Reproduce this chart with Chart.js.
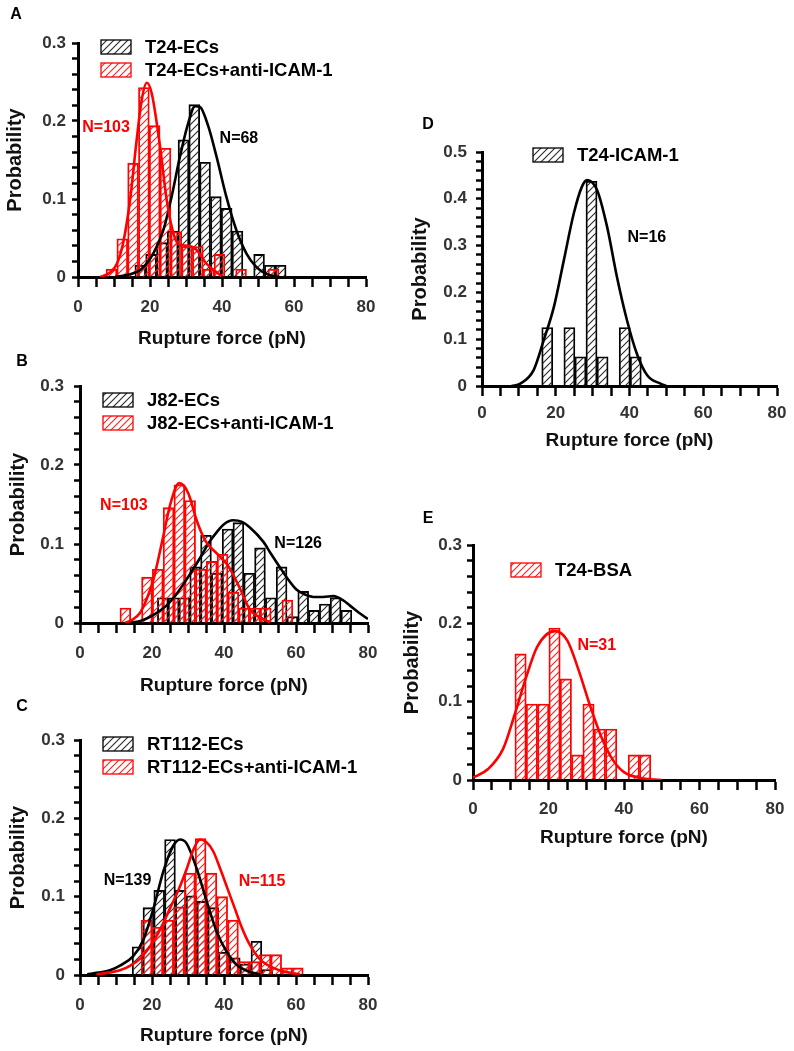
<!DOCTYPE html>
<html lang="en">
<head>
<meta charset="UTF-8">
<title>Rupture force histograms</title>
<style>
  body { margin: 0; background: #fff; }
  #page { position: relative; width: 794px; height: 1051px; overflow: hidden; background: #fff; }
  #page canvas { position: absolute; }
</style>
</head>
<body>
<div id="page">
  <canvas id="panelA"></canvas>
  <canvas id="panelB"></canvas>
  <canvas id="panelC"></canvas>
  <canvas id="panelD"></canvas>
  <canvas id="panelE"></canvas>
</div>

<script src="https://cdn.jsdelivr.net/npm/chart.js@4.4.1/dist/chart.umd.min.js"></script>
<script>
// bin centres (pN) and probabilities
// A: T24-ECs / T24-ECs+anti-ICAM-1
var forceA1 = [17.3, 20.3, 23.3, 26.3, 29.3, 32.3, 35.3, 38.3, 41.3, 44.3, 47.3, 50.3, 53.3, 56.3];
var probA1  = [0.015, 0.029, 0.044, 0.059, 0.176, 0.221, 0.147, 0.103, 0.088, 0.059, 0, 0.029, 0.015, 0.015];
var forceA2 = [9.3, 12.3, 15.3, 18.3, 21.3, 24.3, 27.3, 30.3, 33.3, 36.3, 39.3, 42.3, 45.3, 48.3, 51.3, 54.3];
var probA2  = [0.010, 0.049, 0.146, 0.243, 0.194, 0.165, 0.058, 0.039, 0.039, 0.010, 0.029, 0, 0.010, 0, 0, 0.010];
var fitA1x = [10.3, 14, 17.3, 20.9, 23.7, 26, 28.3, 30.6, 32.5, 33.9, 36.2, 38.5, 41.2, 44, 46.8, 49.5, 52.3, 56];
var fitA1y = [0, 0.003, 0.009, 0.03, 0.06, 0.103, 0.154, 0.197, 0.219, 0.218, 0.193, 0.154, 0.103, 0.06, 0.03, 0.013, 0.004, 0];
var fitA2x = [6.2, 9, 10.8, 12.6, 14.5, 16.3, 17.7, 19.1, 20.5, 22.8, 24.6, 26.5, 28.3, 30.6, 32.9, 35.7, 38.5, 39.9];
var fitA2y = [0, 0.006, 0.017, 0.045, 0.1, 0.176, 0.227, 0.249, 0.235, 0.167, 0.1, 0.056, 0.041, 0.04, 0.035, 0.017, 0.006, 0.001];

// B: J82-ECs / J82-ECs+anti-ICAM-1
var forceB1 = [23, 26, 29, 32, 35, 38, 41, 44, 47, 50, 53, 56, 59, 62, 65, 68, 71, 74];
var probB1  = [0.032, 0.032, 0.032, 0.071, 0.111, 0.063, 0.119, 0.127, 0.063, 0.095, 0.032, 0.071, 0.008, 0.040, 0.016, 0.024, 0.032, 0.016];
var forceB2 = [12.6, 15.6, 18.6, 21.6, 24.6, 27.6, 30.6, 33.6, 36.6, 39.6, 42.6, 45.6, 48.6, 51.6, 54.6, 57.6];
var probB2  = [0.019, 0, 0.058, 0.068, 0.146, 0.175, 0.155, 0.068, 0.078, 0.087, 0.039, 0.019, 0.019, 0.019, 0, 0.029];
var fitB1x = [13, 17, 21, 24, 27, 30, 33.3, 36, 38, 40, 42.5, 45, 47.2, 50.9, 53, 55.6, 58, 60.2, 62.5, 64.8, 67.5, 70.4, 73, 75, 77.5, 80];
var fitB1y = [0, 0.003, 0.012, 0.022, 0.038, 0.058, 0.082, 0.103, 0.115, 0.125, 0.13, 0.128, 0.121, 0.103, 0.088, 0.07, 0.054, 0.042, 0.036, 0.033, 0.033, 0.034, 0.029, 0.022, 0.013, 0.005];
var fitB2x = [12.5, 14.5, 16.7, 18.5, 20.4, 23.1, 25, 27.6, 30.1, 32.4, 34.7, 38, 41.2, 44.4, 47.2, 50.9, 52.8];
var fitB2y = [0, 0.004, 0.013, 0.03, 0.055, 0.109, 0.149, 0.177, 0.164, 0.13, 0.105, 0.088, 0.072, 0.044, 0.017, 0.005, 0.001];

// C: RT112-ECs / RT112-ECs+anti-ICAM-1
var forceC1 = [16, 19, 22, 25, 28, 31, 34, 37, 40, 43, 46, 49, 52];
var probC1  = [0.036, 0.086, 0.108, 0.173, 0.108, 0.101, 0.094, 0.086, 0.029, 0.022, 0.014, 0.043, 0.007];
var forceC2 = [18.5, 21.5, 24.5, 27.5, 30.5, 33.5, 36.5, 39.5, 42.5, 45.5, 48.5, 51.5, 54.5, 57.5, 60.5];
var probC2  = [0.070, 0.061, 0.070, 0.087, 0.130, 0.174, 0.130, 0.100, 0.070, 0.017, 0.017, 0.026, 0.026, 0.009, 0.009];
var fitC1x = [2, 5, 8.3, 11.1, 14.8, 17.6, 20.4, 23.2, 25.9, 27.8, 29.6, 32.4, 35.2, 38, 40.7, 43.5, 47.2, 50];
var fitC1y = [0.001, 0.003, 0.006, 0.012, 0.024, 0.045, 0.085, 0.133, 0.165, 0.173, 0.168, 0.136, 0.094, 0.055, 0.03, 0.013, 0.004, 0.001];
var fitC2x = [4.6, 8, 11.1, 14, 16.7, 20.4, 23, 25, 27.5, 29.6, 31.5, 33.3, 35, 37, 39, 41, 43, 45, 47, 50, 53.7, 57, 61.1];
var fitC2y = [0.001, 0.003, 0.006, 0.012, 0.021, 0.043, 0.065, 0.085, 0.11, 0.135, 0.16, 0.173, 0.17, 0.158, 0.135, 0.11, 0.085, 0.06, 0.04, 0.02, 0.009, 0.004, 0.001];

// D: T24-ICAM-1
var forceD = [17.7, 20.7, 23.7, 26.7, 29.7, 32.7, 35.7, 38.7, 41.7];
var probD  = [0.125, 0, 0.125, 0.0625, 0.4375, 0.0625, 0, 0.125, 0.0625];
var fitDx = [8, 10.4, 14, 16.7, 19.5, 22.2, 24.9, 27.1, 28.5, 31.2, 33.9, 36.6, 39.3, 42, 44.8, 48.4, 50];
var fitDy = [0, 0.005, 0.034, 0.097, 0.169, 0.269, 0.369, 0.426, 0.44, 0.419, 0.341, 0.233, 0.141, 0.069, 0.023, 0.005, 0];

// E: T24-BSA
var forceE = [12.6, 15.6, 18.6, 21.6, 24.6, 27.6, 30.6, 33.6, 36.6, 39.6, 42.6, 45.6];
var probE  = [0.161, 0.097, 0.097, 0.194, 0.129, 0.032, 0.097, 0.065, 0.065, 0, 0.032, 0.032];
var fitEx = [0, 4, 8, 11, 14, 17, 21.7, 25, 28, 31, 34, 37, 40, 44, 50];
var fitEy = [0.003, 0.014, 0.04, 0.083, 0.13, 0.17, 0.19, 0.178, 0.14, 0.095, 0.055, 0.026, 0.01, 0.003, 0];

var FONT = '"Liberation Sans", Arial, Helvetica, sans-serif';
var BLACK = '#000000';
var RED = '#ff0000';

// diagonal hatch fill like the original bars
function hatch(color) {
  var size = 7;
  var c = document.createElement('canvas');
  c.width = size; c.height = size;
  var g = c.getContext('2d');
  g.strokeStyle = color;
  g.lineWidth = 1.1;
  g.beginPath();
  g.moveTo(0, size); g.lineTo(size, 0);
  g.moveTo(-1, 1); g.lineTo(1, -1);
  g.moveTo(size - 1, size + 1); g.lineTo(size + 1, size - 1);
  g.stroke();
  return g.createPattern(c, 'repeat');
}
var hatchBlack = hatch('#2a2a2a');
var hatchRed = hatch('#ff2020');

function points(xs, ys) {
  var out = [];
  for (var i = 0; i < xs.length; i++) {
    if (ys[i] > 0) out.push({ x: xs[i], y: ys[i] });
  }
  return out;
}
function curve(xs, ys) {
  return xs.map(function (x, i) { return { x: x, y: ys[i] }; });
}

// letters, legend boxes and N= notes
var decor = {
  id: 'decor',
  afterDraw: function (chart, args, o) {
    var ctx = chart.ctx, area = chart.chartArea;
    ctx.save();
    ctx.textBaseline = 'middle';
    ctx.font = 'bold 16px ' + FONT;
    ctx.fillStyle = '#000';
    ctx.textAlign = 'center';
    ctx.fillText(o.letter, o.letterX, o.letterY);

    ctx.font = 'bold 18.5px ' + FONT;
    var row = 0;
    chart.data.datasets.forEach(function (ds) {
      if (ds.type === 'line') return;
      var bx = area.left + o.legendX, by = area.top + o.legendY + row * 23;
      ctx.fillStyle = ds.backgroundColor;
      ctx.fillRect(bx, by, 30, 14);
      ctx.strokeStyle = ds.borderColor;
      ctx.lineWidth = 1.3;
      ctx.strokeRect(bx, by, 30, 14);
      ctx.fillStyle = '#000';
      ctx.textAlign = 'left';
      ctx.fillText(ds.label, bx + 44, by + 8);
      row++;
    });

    ctx.font = 'bold 16px ' + FONT;
    ctx.textAlign = 'center';
    o.notes.forEach(function (n) {
      ctx.fillStyle = n.color;
      ctx.fillText(n.text, chart.scales.x.getPixelForValue(n.x), chart.scales.y.getPixelForValue(n.y));
    });
    ctx.restore();
  }
};

function makePanel(p) {
  var canvas = document.getElementById(p.id);
  canvas.width = p.box.width;
  canvas.height = p.box.height;
  canvas.style.left = p.box.left + 'px';
  canvas.style.top = p.box.top + 'px';
  canvas.style.width = p.box.width + 'px';
  canvas.style.height = p.box.height + 'px';

  var datasets = [];
  p.series.forEach(function (s, i) {
    var col = s.red ? RED : BLACK;
    datasets.push({
      type: 'bar',
      label: s.label,
      data: points(s.x, s.y),
      xAxisID: i === 0 ? 'x' : 'x2',
      grouped: false,
      backgroundColor: s.red ? hatchRed : hatchBlack,
      borderColor: col,
      borderWidth: 1.2,
      categoryPercentage: 1,
      barPercentage: 1,
      order: 3 - i
    });
    datasets.push({
      type: 'line',
      label: s.label + ' fit',
      data: curve(s.fitX, s.fitY),
      xAxisID: 'x',
      borderColor: col,
      borderWidth: 2.6,
      pointRadius: 0,
      fill: false,
      cubicInterpolationMode: 'monotone',
      order: i === 0 ? 1 : 0
    });
  });

  var xTitleFont = { family: FONT, size: 19, weight: 'bold' };
  var yTitleFont = { family: FONT, size: 20, weight: 'bold' };
  var tickFont = { family: FONT, size: 17, weight: 'bold' };

  return new Chart(canvas, {
    type: 'bar',
    data: { datasets: datasets },
    plugins: [decor],
    options: {
      responsive: false,
      animation: false,
      devicePixelRatio: 1,
      events: [],
      layout: {
        padding: {
          left: 0,
          top: p.area.top - p.box.top,
          right: p.box.left + p.box.width - p.area.right,
          bottom: 0
        }
      },
      plugins: {
        legend: { display: false },
        tooltip: { enabled: false },
        decor: {
          letter: p.letter,
          letterX: p.letterAt[0] - p.box.left,
          letterY: p.letterAt[1] - p.box.top,
          legendX: p.legendAt[0],
          legendY: p.legendAt[1],
          notes: p.notes
        }
      },
      scales: {
        x: {
          type: 'linear', min: 0, max: 80, offset: false, position: 'bottom',
          afterFit: function (s) { s.height = p.box.top + p.box.height - p.area.bottom; },
          border: { display: true, color: '#000', width: 3 },
          grid: { display: true, drawOnChartArea: false, drawTicks: true, tickLength: 10, tickWidth: 2.5, tickColor: '#000', offset: false },
          ticks: {
            stepSize: 5, autoSkip: false, maxRotation: 0, minRotation: 0, padding: p.xTickPad - 2,
            color: '#333', font: tickFont,
            callback: function (v) { return v % 20 === 0 ? String(v) : ''; }
          },
          title: {
            display: true, text: 'Rupture force (pN)', color: '#111', font: xTitleFont,
            padding: { top: 0, bottom: p.box.top + p.box.height - xTitleFont.size * 0.6 - p.xTitleY }
          }
        },
        x2: { type: 'linear', min: 0, max: 80, offset: false, display: false },
        y: {
          min: 0, max: p.yMax,
          afterFit: function (s) { s.width = p.area.left - p.box.left; },
          border: { display: true, color: '#000', width: 3 },
          grid: { display: true, drawOnChartArea: false, drawTicks: true, tickLength: 6, tickWidth: 2.5, tickColor: '#000' },
          ticks: {
            stepSize: 0.02, autoSkip: false, padding: p.yTickPad, color: '#333', font: tickFont,
            callback: function (v) {
              var t = v * 10;
              return Math.abs(t - Math.round(t)) < 1e-6 ? String(Math.round(t) / 10) : '';
            }
          },
          title: {
            display: true, text: 'Probability', color: '#111', font: yTitleFont,
            padding: { top: p.yTitleX - p.box.left - yTitleFont.size * 0.6, bottom: 0 }
          }
        }
      }
    }
  });
}

makePanel({
  id: 'panelA', letter: 'A', letterAt: [16, 15],
  box: { left: 0, top: 0, width: 400, height: 352 },
  area: { left: 78, top: 43, right: 366, bottom: 277 },
  yMax: 0.3, xTitleY: 339, yTitleX: 15.5, legendAt: [23, -3], xTickPad: 12, yTickPad: 6,
  series: [
    { label: 'T24-ECs', x: forceA1, y: probA1, fitX: fitA1x, fitY: fitA1y },
    { label: 'T24-ECs+anti-ICAM-1', red: true, x: forceA2, y: probA2, fitX: fitA2x, fitY: fitA2y }
  ],
  notes: [
    { text: 'N=103', color: RED, x: 7.8, y: 0.191 },
    { text: 'N=68', color: BLACK, x: 44.7, y: 0.178 }
  ]
});

makePanel({
  id: 'panelB', letter: 'B', letterAt: [22, 362],
  box: { left: 0, top: 345, width: 400, height: 352 },
  area: { left: 80, top: 386, right: 368, bottom: 623 },
  yMax: 0.3, xTitleY: 686, yTitleX: 18.5, legendAt: [23, 7], xTickPad: 12, yTickPad: 10,
  series: [
    { label: 'J82-ECs', x: forceB1, y: probB1, fitX: fitB1x, fitY: fitB1y },
    { label: 'J82-ECs+anti-ICAM-1', red: true, x: forceB2, y: probB2, fitX: fitB2x, fitY: fitB2y }
  ],
  notes: [
    { text: 'N=103', color: RED, x: 12.2, y: 0.149 },
    { text: 'N=126', color: BLACK, x: 60.6, y: 0.101 }
  ]
});

makePanel({
  id: 'panelC', letter: 'C', letterAt: [22, 707],
  box: { left: 0, top: 690, width: 400, height: 361 },
  area: { left: 80, top: 740, right: 368, bottom: 975 },
  yMax: 0.3, xTitleY: 1036, yTitleX: 18.5, legendAt: [23, -3], xTickPad: 12, yTickPad: 9,
  series: [
    { label: 'RT112-ECs', x: forceC1, y: probC1, fitX: fitC1x, fitY: fitC1y },
    { label: 'RT112-ECs+anti-ICAM-1', red: true, x: forceC2, y: probC2, fitX: fitC2x, fitY: fitC2y }
  ],
  notes: [
    { text: 'N=139', color: BLACK, x: 13.2, y: 0.121 },
    { text: 'N=115', color: RED, x: 50.6, y: 0.119 }
  ]
});

makePanel({
  id: 'panelD', letter: 'D', letterAt: [428, 125],
  box: { left: 400, top: 100, width: 394, height: 352 },
  area: { left: 482, top: 152, right: 777, bottom: 386 },
  yMax: 0.5, xTitleY: 441, yTitleX: 420.5, legendAt: [51, -4], xTickPad: 9, yTickPad: 9,
  series: [
    { label: 'T24-ICAM-1', x: forceD, y: probD, fitX: fitDx, fitY: fitDy }
  ],
  notes: [
    { text: 'N=16', color: BLACK, x: 44.7, y: 0.318 }
  ]
});

makePanel({
  id: 'panelE', letter: 'E', letterAt: [428, 519],
  box: { left: 400, top: 495, width: 394, height: 355 },
  area: { left: 473, top: 545, right: 775, bottom: 780 },
  yMax: 0.3, xTitleY: 838, yTitleX: 412.5, legendAt: [38, 18], xTickPad: 11, yTickPad: 5,
  series: [
    { label: 'T24-BSA', red: true, x: forceE, y: probE, fitX: fitEx, fitY: fitEy }
  ],
  notes: [
    { text: 'N=31', color: RED, x: 32.8, y: 0.172 }
  ]
});
</script>
</body>
</html>
